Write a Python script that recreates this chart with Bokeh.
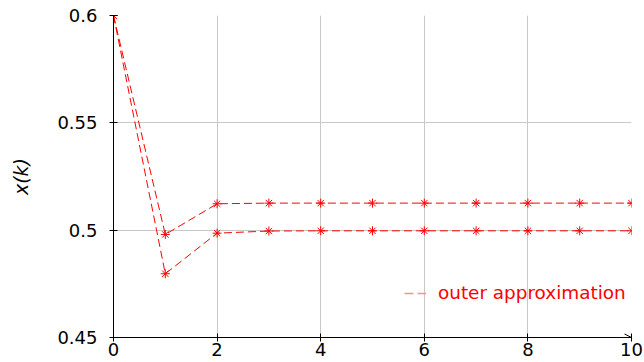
from bokeh.plotting import figure
from bokeh.models import FixedTicker, Range1d, Legend, LegendItem, Arrow, OpenHead
from bokeh.embed import file_html
from bokeh.resources import INLINE

k = [0, 1, 2, 3, 4, 5, 6, 7, 8, 9, 10]
upper = [0.6, 0.498, 0.5123, 0.5126, 0.5126, 0.5126, 0.5126, 0.5126, 0.5126, 0.5126, 0.5126]
lower = [0.6, 0.4797, 0.4986, 0.4996, 0.4997, 0.4997, 0.4997, 0.4997, 0.4997, 0.4997, 0.4997]
x_ticks = [0, 2, 4, 6, 8, 10]
y_ticks = [0.45, 0.5, 0.55, 0.6]
y_tick_labels = ["0.45", "0.5", "0.55", "0.6"]
legend_label = "outer approximation"

FONT = "DejaVu Sans"
RED = "#ff0000"

p = figure(width=644, height=362, output_backend="svg", toolbar_location=None,
           x_range=Range1d(0, 10), y_range=Range1d(0.45, 0.6),
           min_border_left=113, min_border_right=13, min_border_top=15, min_border_bottom=25)
p.outline_line_color = None
p.background_fill_color = "white"
p.border_fill_color = "white"

for ax in (p.xaxis[0], p.yaxis[0]):
    ax.axis_line_color = "black"
    ax.axis_line_width = 1
    ax.major_tick_line_color = "black"
    ax.major_tick_in = 4
    ax.major_tick_out = 4
    ax.minor_tick_line_color = None
    ax.major_label_text_font = FONT
    ax.major_label_text_color = "black"

p.xaxis.ticker = FixedTicker(ticks=x_ticks)
p.yaxis.ticker = FixedTicker(ticks=y_ticks)
p.yaxis.major_label_overrides = {t: s for t, s in zip(y_ticks, y_tick_labels)}
p.xaxis.major_label_text_font_size = "18px"
p.yaxis.major_label_text_font_size = "18px"
p.xaxis.major_label_standoff = 1
p.yaxis.major_label_standoff = 12
p.yaxis.axis_label = "x(k)"
p.yaxis.axis_label_text_font = FONT
p.yaxis.axis_label_text_font_style = "italic"
p.yaxis.axis_label_text_font_size = "19px"
p.yaxis.axis_label_text_color = "black"
p.yaxis.axis_label_standoff = 22

p.xgrid.ticker = FixedTicker(ticks=x_ticks)
p.ygrid.ticker = FixedTicker(ticks=y_ticks)
p.grid.grid_line_color = "#c8c8c8"
p.grid.grid_line_width = 1

for ys in (upper, lower):
    p.line(k, ys, line_color=RED, line_dash="8 4", line_width=1)
    p.scatter(k, ys, marker="asterisk", size=9, line_color=RED, line_width=1)

# legend-only sample line, kept outside the visible range
leg_r = p.line([-2, -1], [0.5, 0.5], line_color="#ff8f8f", line_dash="9 4", line_width=1.5)
legend = Legend(items=[LegendItem(label=legend_label, renderers=[leg_r])],
                location=(291, 34), orientation="vertical")
legend.background_fill_alpha = 0
legend.border_line_color = None
legend.label_text_font = FONT
legend.label_text_font_size = "18.4px"
legend.label_text_color = RED
legend.glyph_width = 22
legend.label_standoff = 12
p.add_layout(legend, "center")

p.add_layout(Arrow(end=OpenHead(size=7, line_color="black", line_width=1),
                   x_start=9.9, y_start=0.45, x_end=10, y_end=0.45,
                   line_color="black", line_width=1))

open("out.html", "w").write(file_html(p, INLINE))
